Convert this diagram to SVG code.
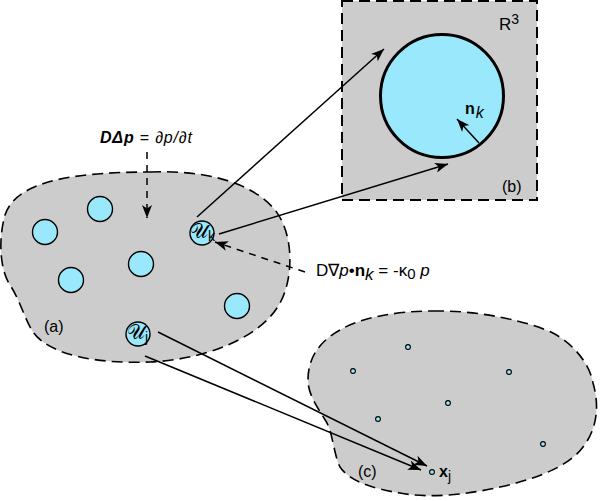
<svg xmlns="http://www.w3.org/2000/svg" width="600" height="501" viewBox="0 0 600 501">
<style>
.region{fill:#cccccc;stroke:#000;stroke-width:1.6;stroke-dasharray:11 6}
.hole{fill:#9ae8fb;stroke:#000;stroke-width:1.4}
.dot{fill:#9ae8fb;stroke:#000;stroke-width:1.1}
.arr{fill:none;stroke:#000;stroke-width:1.5;marker-end:url(#ah)}
.darr{fill:none;stroke:#000;stroke-width:1.5;stroke-dasharray:7 6;marker-end:url(#ah)}
text{font-family:"Liberation Sans",Arial,sans-serif;fill:#000}
.lbl{font-size:16px}
.scr{font-family:"DejaVu Serif","Noto Sans",serif;font-size:20px}
</style>
<defs>
<marker id="ah" markerUnits="userSpaceOnUse" markerWidth="14" markerHeight="10" refX="13" refY="5" orient="auto">
<path d="M0,0 L13,5 L0,10 L3.5,5 Z" fill="#000"/>
</marker>
</defs>
<g id="region-a">
<path class="region" d="M150,172 C200,170 250,180 275,210 C295,235 293,280 280,303 C260,340 200,360 150,362 C100,364 50,356 33,332 C25,320 20,300 10,285 C0,270 -2,240 5,215 C15,185 60,172 150,172 Z"/>
<circle class="hole" cx="45" cy="232" r="12.5"/>
<circle class="hole" cx="100" cy="209" r="12.5"/>
<circle class="hole" cx="71" cy="280" r="12.5"/>
<circle class="hole" cx="141" cy="264" r="12.5"/>
<circle class="hole" cx="237" cy="306" r="12.5"/>
<text class="lbl" x="44" y="332">(a)</text>
</g>
<g id="Uk">
<circle class="hole" cx="202" cy="233" r="12"/>
<text class="scr" x="190" y="238">𝒰<tspan font-family="Liberation Sans" font-size="14" dy="3">k</tspan></text>
</g>
<g id="Uj">
<circle class="hole" cx="138" cy="334" r="12"/>
<text class="scr" x="127" y="339">𝒰<tspan font-family="Liberation Sans" font-size="14" dy="3">j</tspan></text>
</g>
<g id="box-b">
<rect x="342" y="1" width="195" height="199" class="region" style="stroke-width:2"/>
<circle cx="442" cy="96" r="61.5" fill="#9ae8fb" stroke="#000" stroke-width="3"/>
<text x="499" y="30" style="font-size:17px">R<tspan dy="-6" font-size="14">3</tspan></text>
<text class="lbl" x="502" y="192">(b)</text>
<text x="465" y="114" style="font-size:16px;font-weight:bold">n<tspan dx="1" dy="4" font-style="italic" font-weight="normal">k</tspan></text>
</g>
<g id="region-c">
<path class="region" d="M433,311 C480,310 530,322 553,333 C575,345 590,365 593,383 C598,400 600,425 583,447 C570,465 540,478 500,487 C470,494 430,499 400,493 C375,489 350,482 340,467 C334,455 333,435 327,423 C318,408 308,395 308,380 C308,365 313,345 340,330 C360,318 395,311 433,311 Z"/>
<circle class="dot" cx="408" cy="347" r="2.4"/>
<circle class="dot" cx="353" cy="371" r="2.4"/>
<circle class="dot" cx="509" cy="372" r="2.4"/>
<circle class="dot" cx="448" cy="403" r="2.4"/>
<circle class="dot" cx="378" cy="419" r="2.4"/>
<circle class="dot" cx="543" cy="444" r="2.4"/>
<circle class="dot" cx="432" cy="472" r="2.4"/>
<text class="lbl" x="358" y="477">(c)</text>
<text x="439" y="477" style="font-size:16px;font-weight:bold">x<tspan dy="4" font-weight="normal" font-size="14">j</tspan></text>
</g>
<g id="connectors">
<line class="arr" x1="197" y1="217" x2="384" y2="49"/>
<line class="arr" x1="219" y1="234" x2="448" y2="164"/>
<line class="arr" x1="479" y1="143" x2="457" y2="119"/>
<line class="arr" x1="158" y1="332" x2="427" y2="466"/>
<line class="arr" x1="145" y1="356" x2="421" y2="470"/>
<line class="darr" x1="147" y1="152" x2="147" y2="218"/>
<line class="darr" x1="305" y1="272" x2="215" y2="242"/>
</g>
<g id="labels">
<text x="100" y="143" style="font-size:16px" textLength="92" lengthAdjust="spacing"><tspan font-weight="bold" font-style="italic">DΔp</tspan> = <tspan font-style="italic">∂p/∂t</tspan></text>
<text x="316" y="276" style="font-size:17px">D∇<tspan font-style="italic">p</tspan>•<tspan font-weight="bold">n</tspan><tspan font-style="italic" dy="4">k</tspan><tspan dy="-4"> = -κ</tspan><tspan dy="3" font-size="15">0</tspan><tspan dy="-3" font-style="italic"> p</tspan></text>
</g>
</svg>
